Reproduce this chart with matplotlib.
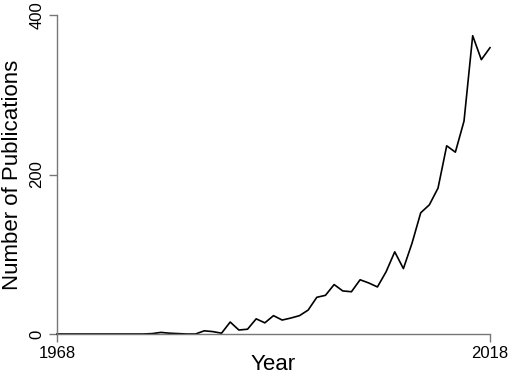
import matplotlib
matplotlib.use("Agg")
import matplotlib.pyplot as plt

plt.rcParams['font.family'] = ['Liberation Sans', 'DejaVu Sans']

years = list(range(1968, 2019))
counts = [0, 0, 0, 0, 0, 0, 0, 0, 0, 0, 0, 0.5, 2, 1, 0.5, 0, 0, 4, 3, 1,
          15, 5, 6, 19, 14, 23, 17.5, 20, 23, 30, 46, 48.5, 62, 54, 53, 68,
          64, 59, 78, 103, 82, 114, 152, 162, 183, 236, 228, 267, 374, 344, 359]
xticks = [1968, 2018]
yticks = [0, 200, 400]

fig = plt.figure(figsize=(5.1, 3.76), dpi=100)
ax = fig.add_axes([57 / 510, 1 - 334 / 376, 433 / 510, 319 / 376])
ax.plot(years, counts, color='black', lw=1.2, clip_on=False)

ax.set_xlim(1968, 2018)
ax.set_ylim(0, 400)
ax.set_xticks(xticks)
ax.set_yticks(yticks)
for s in ['top', 'right']:
    ax.spines[s].set_visible(False)
for s in ['left', 'bottom']:
    ax.spines[s].set_color('#777777')
    ax.spines[s].set_linewidth(1.0)
ax.tick_params(colors='#777777', labelcolor='black', length=6, width=1.0,
               labelsize=12)
ax.tick_params(axis='x', pad=3)
ax.tick_params(axis='y', pad=3)
for lab in ax.get_yticklabels():
    lab.set_rotation(90)
    lab.set_va('center')
# x label sits close under the tick labels, as in the original
fig.text(273 / 510, 1 - 365 / 376, 'Year', ha='center', va='center', fontsize=16)
ax.set_ylabel('Number of Publications', fontsize=16, labelpad=5)

fig.savefig('out.png', dpi=100)
